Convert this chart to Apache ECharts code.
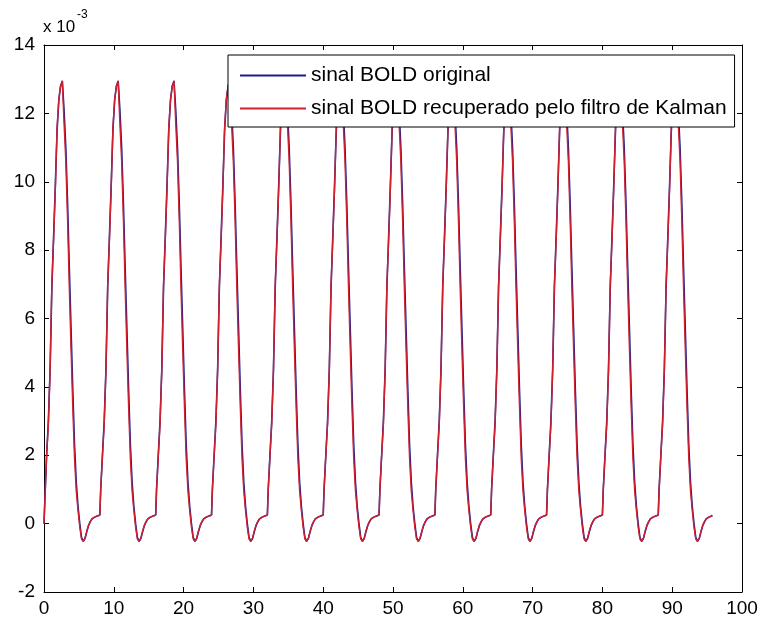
<!DOCTYPE html>
<html>
<head>
<meta charset="utf-8">
<script src="https://cdn.jsdelivr.net/npm/echarts@6/dist/echarts.min.js"></script>
<style>html,body{margin:0;padding:0;background:#fff}#c{width:762px;height:628px}</style>
</head>
<body>
<div id="c"></div>
<script>
// sample step of the signal (x units)
const sampleStep = 0.25;
const xTicks = [0, 10, 20, 30, 40, 50, 60, 70, 80, 90, 100];
const yTicks = [-2, 0, 2, 4, 6, 8, 10, 12, 14];
const legendNames = ['sinal BOLD original', 'sinal BOLD recuperado pelo filtro de Kalman'];
// values in units of 1e-3
const original = [
0.00,0.70,2.0,3.0,4.5,6.9,8.4,9.9,11.5,12.4,12.8,12.95,12.1,11.0,9.4,7.5,5.7,3.9,2.3,1.2,0.50,0.00,-0.40,-0.52,-0.44,-0.24,-0.06,0.05,0.14,0.19,0.22,0.24,
0.25,1.0,2.0,3.0,4.5,6.9,8.4,9.9,11.5,12.4,12.8,12.95,12.1,11.0,9.4,7.5,5.7,3.9,2.3,1.2,0.50,0.00,-0.40,-0.52,-0.44,-0.24,-0.06,0.05,0.14,0.19,0.22,0.24,
0.25,1.0,2.0,3.0,4.5,6.9,8.4,9.9,11.5,12.4,12.8,12.95,12.1,11.0,9.4,7.5,5.7,3.9,2.3,1.2,0.50,0.00,-0.40,-0.52,-0.44,-0.24,-0.06,0.05,0.14,0.19,0.22,0.24,
0.25,1.0,2.0,3.0,4.5,6.9,8.4,9.9,11.5,12.4,12.8,12.95,12.1,11.0,9.4,7.5,5.7,3.9,2.3,1.2,0.50,0.00,-0.40,-0.52,-0.44,-0.24,-0.06,0.05,0.14,0.19,0.22,0.24,
0.25,1.0,2.0,3.0,4.5,6.9,8.4,9.9,11.5,12.4,12.8,12.95,12.1,11.0,9.4,7.5,5.7,3.9,2.3,1.2,0.50,0.00,-0.40,-0.52,-0.44,-0.24,-0.06,0.05,0.14,0.19,0.22,0.24,
0.25,1.0,2.0,3.0,4.5,6.9,8.4,9.9,11.5,12.4,12.8,12.95,12.1,11.0,9.4,7.5,5.7,3.9,2.3,1.2,0.50,0.00,-0.40,-0.52,-0.44,-0.24,-0.06,0.05,0.14,0.19,0.22,0.24,
0.25,1.0,2.0,3.0,4.5,6.9,8.4,9.9,11.5,12.4,12.8,12.95,12.1,11.0,9.4,7.5,5.7,3.9,2.3,1.2,0.50,0.00,-0.40,-0.52,-0.44,-0.24,-0.06,0.05,0.14,0.19,0.22,0.24,
0.25,1.0,2.0,3.0,4.5,6.9,8.4,9.9,11.5,12.4,12.8,12.95,12.1,11.0,9.4,7.5,5.7,3.9,2.3,1.2,0.50,0.00,-0.40,-0.52,-0.44,-0.24,-0.06,0.05,0.14,0.19,0.22,0.24,
0.25,1.0,2.0,3.0,4.5,6.9,8.4,9.9,11.5,12.4,12.8,12.95,12.1,11.0,9.4,7.5,5.7,3.9,2.3,1.2,0.50,0.00,-0.40,-0.52,-0.44,-0.24,-0.06,0.05,0.14,0.19,0.22,0.24,
0.25,1.0,2.0,3.0,4.5,6.9,8.4,9.9,11.5,12.4,12.8,12.95,12.1,11.0,9.4,7.5,5.7,3.9,2.3,1.2,0.50,0.00,-0.40,-0.52,-0.44,-0.24,-0.06,0.05,0.14,0.19,0.22,0.24,
0.25,1.0,2.0,3.0,4.5,6.9,8.4,9.9,11.5,12.4,12.8,12.95,12.1,11.0,9.4,7.5,5.7,3.9,2.3,1.2,0.50,0.00,-0.40,-0.52,-0.44,-0.24,-0.06,0.05,0.14,0.19,0.22,0.24,
0.25,1.0,2.0,3.0,4.5,6.9,8.4,9.9,11.5,12.4,12.8,12.95,12.1,11.0,9.4,7.5,5.7,3.9,2.3,1.2,0.50,0.00,-0.40,-0.52,-0.44,-0.24,-0.06,0.05,0.14,0.19,0.22,0.24
];
const kalman = [
0.00,0.70,2.0,2.9,4.5,7.0,8.3,9.8,11.6,12.4,12.8,12.95,11.7,10.6,8.9,6.9,5.1,3.4,1.9,0.95,0.38,-0.10,-0.45,-0.52,-0.42,-0.22,-0.05,0.06,0.14,0.19,0.22,0.24,
0.25,1.0,2.0,2.9,4.5,7.0,8.3,9.8,11.6,12.4,12.8,12.95,11.7,10.6,8.9,6.9,5.1,3.4,1.9,0.95,0.38,-0.10,-0.45,-0.52,-0.42,-0.22,-0.05,0.06,0.14,0.19,0.22,0.24,
0.25,1.0,2.0,2.9,4.5,7.0,8.3,9.8,11.6,12.4,12.8,12.95,11.7,10.6,8.9,6.9,5.1,3.4,1.9,0.95,0.38,-0.10,-0.45,-0.52,-0.42,-0.22,-0.05,0.06,0.14,0.19,0.22,0.24,
0.25,1.0,2.0,2.9,4.5,7.0,8.3,9.8,11.6,12.4,12.8,12.95,11.7,10.6,8.9,6.9,5.1,3.4,1.9,0.95,0.38,-0.10,-0.45,-0.52,-0.42,-0.22,-0.05,0.06,0.14,0.19,0.22,0.24,
0.25,1.0,2.0,2.9,4.5,7.0,8.3,9.8,11.6,12.4,12.8,12.95,11.7,10.6,8.9,6.9,5.1,3.4,1.9,0.95,0.38,-0.10,-0.45,-0.52,-0.42,-0.22,-0.05,0.06,0.14,0.19,0.22,0.24,
0.25,1.0,2.0,2.9,4.5,7.0,8.3,9.8,11.6,12.4,12.8,12.95,11.7,10.6,8.9,6.9,5.1,3.4,1.9,0.95,0.38,-0.10,-0.45,-0.52,-0.42,-0.22,-0.05,0.06,0.14,0.19,0.22,0.24,
0.25,1.0,2.0,2.9,4.5,7.0,8.3,9.8,11.6,12.4,12.8,12.95,11.7,10.6,8.9,6.9,5.1,3.4,1.9,0.95,0.38,-0.10,-0.45,-0.52,-0.42,-0.22,-0.05,0.06,0.14,0.19,0.22,0.24,
0.25,1.0,2.0,2.9,4.5,7.0,8.3,9.8,11.6,12.4,12.8,12.95,11.7,10.6,8.9,6.9,5.1,3.4,1.9,0.95,0.38,-0.10,-0.45,-0.52,-0.42,-0.22,-0.05,0.06,0.14,0.19,0.22,0.24,
0.25,1.0,2.0,2.9,4.5,7.0,8.3,9.8,11.6,12.4,12.8,12.95,11.7,10.6,8.9,6.9,5.1,3.4,1.9,0.95,0.38,-0.10,-0.45,-0.52,-0.42,-0.22,-0.05,0.06,0.14,0.19,0.22,0.24,
0.25,1.0,2.0,2.9,4.5,7.0,8.3,9.8,11.6,12.4,12.8,12.95,11.7,10.6,8.9,6.9,5.1,3.4,1.9,0.95,0.38,-0.10,-0.45,-0.52,-0.42,-0.22,-0.05,0.06,0.14,0.19,0.22,0.24,
0.25,1.0,2.0,2.9,4.5,7.0,8.3,9.8,11.6,12.4,12.8,12.95,11.7,10.6,8.9,6.9,5.1,3.4,1.9,0.95,0.38,-0.10,-0.45,-0.52,-0.42,-0.22,-0.05,0.06,0.14,0.19,0.22,0.24,
0.25,1.0,2.0,2.9,4.5,7.0,8.3,9.8,11.6,12.4,12.8,12.95,11.7,10.6,8.9,6.9,5.1,3.4,1.9,0.95,0.38,-0.10,-0.45,-0.52,-0.42,-0.22,-0.05,0.06,0.14,0.19,0.22,0.24
];

const FONT = "'Liberation Sans', Arial, Helvetica, sans-serif";
const toPairs = arr => arr.map((v, i) => [i * sampleStep, v]);

const chart = echarts.init(document.getElementById('c'), null, {renderer: 'canvas'});
const axisCommon = {
  axisLine: {show: true, onZero: false, lineStyle: {color: '#000', width: 1}},
  axisTick: {show: true, inside: true, length: 5, lineStyle: {color: '#000', width: 1}},
  splitLine: {show: false}
};
const labelStyle = {color: '#000', fontSize: 19, fontFamily: FONT};
chart.setOption({
  animation: false,
  backgroundColor: '#fff',
  grid: {left: 44, top: 45, width: 698, height: 547, show: false},
  xAxis: [
    Object.assign({type: 'value', min: xTicks[0], max: xTicks[xTicks.length - 1], interval: 10, position: 'bottom',
      axisLabel: Object.assign({margin: 7}, labelStyle)}, axisCommon),
    Object.assign({type: 'value', min: xTicks[0], max: xTicks[xTicks.length - 1], interval: 10, position: 'top',
      axisLabel: {show: false}}, axisCommon)
  ],
  yAxis: [
    Object.assign({type: 'value', min: yTicks[0], max: yTicks[yTicks.length - 1], interval: 2, position: 'left',
      axisLabel: Object.assign({margin: 9}, labelStyle)}, axisCommon),
    Object.assign({type: 'value', min: yTicks[0], max: yTicks[yTicks.length - 1], interval: 2, position: 'right',
      axisLabel: {show: false}}, axisCommon)
  ],
  legend: {
    orient: 'vertical', left: 228, top: 55,
    padding: [10, 8, 8, 12], itemGap: 12,
    itemWidth: 66, itemHeight: 2, icon: 'rect',
    borderColor: '#000', borderWidth: 1, backgroundColor: '#fff', borderRadius: 0,
    textStyle: {fontSize: 21, color: '#000', fontFamily: FONT},
    data: legendNames
  },
  graphic: [
    {type: 'text', left: 43, top: 19, style: {text: 'x 10', fontSize: 17, fill: '#000', fontFamily: FONT}},
    {type: 'text', left: 77, top: 9, style: {text: '-3', fontSize: 12, fill: '#000', fontFamily: FONT}}
  ],
  series: [
    {name: legendNames[0], type: 'line', data: toPairs(original), showSymbol: false, step: 'middle',
      color: '#1c1c8c', lineStyle: {width: 1.6, color: '#1c1c8c'}, z: 2},
    {name: legendNames[1], type: 'line', data: toPairs(kalman), showSymbol: false, step: 'middle',
      color: '#d0202e', lineStyle: {width: 1.4, color: '#d0202e'}, z: 3}
  ]
});
</script>
</body>
</html>
